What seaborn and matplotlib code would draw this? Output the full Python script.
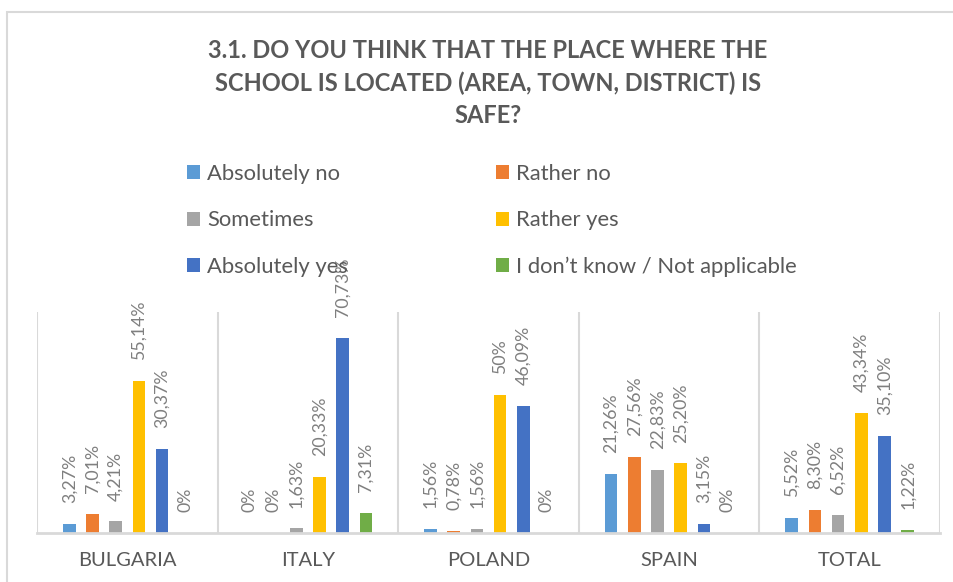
import matplotlib
matplotlib.use("Agg")
import matplotlib.pyplot as plt
import matplotlib.patches as mpatches
import seaborn as sns
import pandas as pd

# ---- data ----
countries = ["BULGARIA", "ITALY", "POLAND", "SPAIN", "TOTAL"]
answers = ["Absolutely no", "Rather no", "Sometimes", "Rather yes",
           "Absolutely yes", "I don\u2019t know / Not applicable"]
absolutely_no = [3.27, 0, 1.56, 21.26, 5.52]
rather_no = [7.01, 0, 0.78, 27.56, 8.30]
sometimes = [4.21, 1.63, 1.56, 22.83, 6.52]
rather_yes = [55.14, 20.33, 50, 25.20, 43.34]
absolutely_yes = [30.37, 70.73, 46.09, 3.15, 35.10]
dont_know = [0, 7.31, 0, 0, 1.22]
series = [absolutely_no, rather_no, sometimes, rather_yes, absolutely_yes, dont_know]
colors = ["#5B9BD5", "#ED7D31", "#A5A5A5", "#FFC000", "#4472C4", "#70AD47"]
title = "3.1. DO YOU THINK THAT THE PLACE WHERE THE\nSCHOOL IS LOCATED (AREA, TOWN, DISTRICT) IS\nSAFE?"

rows = []
for a, vals in zip(answers, series):
    for c, v in zip(countries, vals):
        rows.append({"country": c, "answer": a, "value": v})
df = pd.DataFrame(rows)


def fmt(v):
    if float(v).is_integer():
        return f"{int(v)}%"
    return f"{v:.2f}".replace(".", ",") + "%"


sns.set_theme(style="white")
plt.rcParams["font.family"] = ["Lato", "DejaVu Sans"]

W, H = 954, 582
fig = plt.figure(figsize=(W / 100, H / 100), dpi=100)
fig.patch.set_facecolor("white")

# outer chart border (cut off at right/bottom)
fig.patches.append(mpatches.Rectangle((7 / W, -0.2), 1.2, 1 - 12 / H + 0.2,
                                      transform=fig.transFigure, fill=False,
                                      edgecolor="#d9d9d9", lw=1.5, clip_on=False))

ax = fig.add_axes([37 / W, 1 - 533 / H, (940 - 37) / W, (533 - 312) / H])
sns.barplot(data=df, x="country", y="value", hue="answer", order=countries,
            hue_order=answers, palette=colors, saturation=1, width=0.77, gap=0.46,
            linewidth=0, legend=False, ax=ax)

ax.set_ylim(0, 80)
ax.set_xlim(-0.5, len(countries) - 0.5)
ax.set_xlabel("")
ax.set_ylabel("")
ax.set_yticks([])
for s in ["top", "right", "left"]:
    ax.spines[s].set_visible(False)
ax.spines["bottom"].set_color("#d9d9d9")
ax.spines["bottom"].set_linewidth(2)
for k in range(len(countries) + 1):
    ax.axvline(k - 0.5, color="#d9d9d9", lw=1.5, zorder=0)
ax.tick_params(axis="x", length=0, pad=14, labelsize=14.5, labelcolor="#595959")

for cont, vals in zip(ax.containers, series):
    ax.bar_label(cont, labels=[fmt(v) for v in vals], rotation=90, padding=15,
                 fontsize=12.8, color="#7f7f7f", clip_on=False)

fig.text(488 / W, 1 - 83 / H, title, ha="center", va="center",
         fontsize=17, fontweight="bold", color="#595959", linespacing=1.5)

handles = [mpatches.Patch(facecolor=c, edgecolor="none", label=a) for a, c in zip(answers, colors)]
# row-wise legend order with two columns
handles_ordered = handles[0::2] + handles[1::2]
fig.legend(handles=handles_ordered, ncol=2, loc="upper left",
           bbox_to_anchor=(187 / W, 1 - 164 / H), frameon=False,
           fontsize=15.8, labelcolor="#595959", handlelength=0.6, handleheight=0.6,
           handletextpad=0.32, columnspacing=6.75, labelspacing=1.2,
           borderpad=0, borderaxespad=0)

fig.savefig("out.png", dpi=100)
